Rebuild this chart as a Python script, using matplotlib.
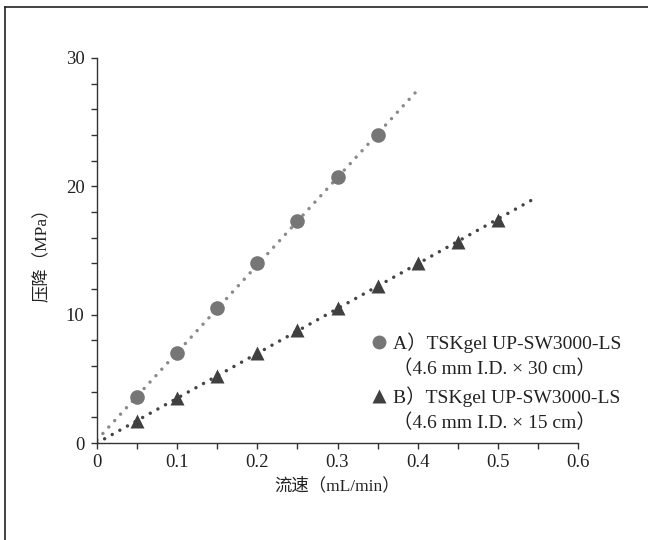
import numpy as np
import matplotlib
matplotlib.use("Agg")
import matplotlib.pyplot as plt
from matplotlib.lines import Line2D

plt.rcParams['font.family'] = ['Liberation Serif', 'Noto Sans CJK SC', 'DejaVu Sans']

# Data
flow_a = [0.05, 0.10, 0.15, 0.20, 0.25, 0.30, 0.35]
press_a = [3.6, 7.0, 10.5, 14.0, 17.3, 20.7, 24.0]
flow_b = [0.05, 0.10, 0.15, 0.20, 0.25, 0.30, 0.35, 0.40, 0.45, 0.50]
press_b = [1.7, 3.5, 5.2, 7.0, 8.8, 10.5, 12.2, 14.0, 15.7, 17.4]
trend_end_a = 0.4
trend_end_b = 0.55

label_a1 = "A）TSKgel UP-SW3000-LS"
label_a2 = "（4.6 mm I.D. × 30 cm）"
label_b1 = "B）TSKgel UP-SW3000-LS"
label_b2 = "（4.6 mm I.D. × 15 cm）"
xlabel = "流速（mL/min）"
ylabel = "压降（MPa）"
xticks = [0, 0.1, 0.2, 0.3, 0.4, 0.5, 0.6]
xticklabels = ["0", "0.1", "0.2", "0.3", "0.4", "0.5", "0.6"]
yticks = [0, 10, 20, 30]

col_a_m = "#767676"
col_a_l = "#8a8a8a"
col_b_m = "#404040"
col_b_l = "#454545"
txt = "#222222"

fig = plt.figure(figsize=(6.48, 5.40), dpi=100)
ax = fig.add_axes([97/648, 1-443/540, (578-97)/648, (443-58)/540])

# trend lines (linear fit)
ka = np.polyfit(flow_a, press_a, 1)
kb = np.polyfit(flow_b, press_b, 1)
xa = np.array([0.0, trend_end_a])
xb = np.array([0.0, trend_end_b])
dot = (0, (0.01, 2.5))
ax.plot(xa, np.polyval(ka, xa), color=col_a_l, lw=2.5, linestyle=dot,
        dash_capstyle='round', zorder=2)
ax.plot(xb, np.polyval(kb, xb), color=col_b_l, lw=2.5, linestyle=dot,
        dash_capstyle='round', zorder=2)

ax.plot(flow_a, press_a, 'o', color=col_a_m, ms=10.5, mec='none', zorder=3)
ax.plot(flow_b, press_b, '^', color=col_b_m, ms=10.5, mec='none', zorder=3)

ax.set_xlim(0, 0.6)
ax.set_ylim(0, 30)
ax.set_xticks(xticks)
ax.set_xticklabels(xticklabels)
ax.set_yticks(yticks)
ax.set_xticks(np.arange(0.05, 0.6, 0.1), minor=True)
ax.set_yticks([v for v in range(2, 30, 2) if v % 10], minor=True)
for s in ['top', 'right']:
    ax.spines[s].set_visible(False)
for s in ['left', 'bottom']:
    ax.spines[s].set_color('#333333')
    ax.spines[s].set_linewidth(1.0)
ax.tick_params(which='both', direction='out', length=4, width=1.0,
               color='#333333', labelsize=13.5, labelcolor=txt)
ax.tick_params(axis='x', pad=4)
ax.tick_params(axis='y', pad=5)
ax.set_xlabel(xlabel, fontsize=12.5, color=txt, labelpad=5)
ax.set_ylabel(ylabel, fontsize=12.5, color=txt, labelpad=11)

blank = Line2D([], [], linestyle='none', marker=None)
handles = [Line2D([], [], linestyle='none', marker='o', color=col_a_m, ms=10, mec='none'),
           blank,
           Line2D([], [], linestyle='none', marker='^', color=col_b_m, ms=10, mec='none'),
           blank]
labels = [label_a1, label_a2, label_b1, label_b2]
leg = fig.legend(handles, labels, loc='upper left',
                 bbox_to_anchor=(372/648, 1-332/540), frameon=False,
                 fontsize=14, labelspacing=0.38, handlelength=0.75,
                 handletextpad=0.35, borderaxespad=0, borderpad=0)
for t in leg.get_texts():
    t.set_color(txt)

# figure frame lines (top and left)
fig.add_artist(Line2D([5/648, 1], [1-7/540, 1-7/540], color='#222222', lw=1.2))
fig.add_artist(Line2D([5/648, 5/648], [0, 1-7/540], color='#222222', lw=1.2))

fig.savefig("out.png", dpi=100)
